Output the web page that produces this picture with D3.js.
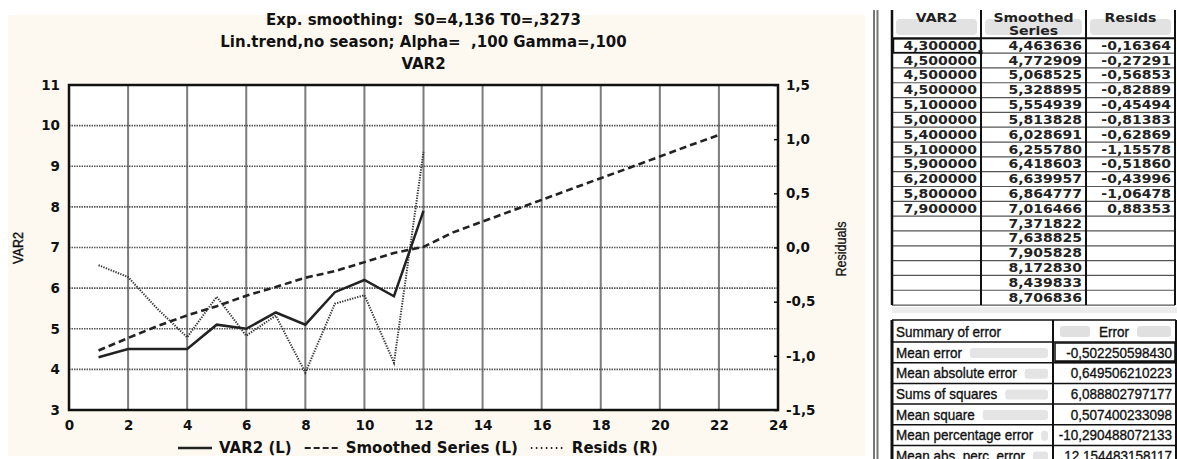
<!DOCTYPE html>
<html>
<head>
<meta charset="utf-8">
<script src="https://cdn.jsdelivr.net/npm/d3@7"></script>
<style>
  body { margin: 0; background: #fff; }
  svg { display: block; }
  text { font-family: "DejaVu Sans", sans-serif; fill: #111; }
</style>
</head>
<body>
<script>
// chart data
const periods = [1, 2, 3, 4, 5, 6, 7, 8, 9, 10, 11, 12, 13, 14, 15, 16, 17, 18, 19, 20, 21, 22];
const var2 = [4.3, 4.5, 4.5, 4.5, 5.1, 5.0, 5.4, 5.1, 5.9, 6.2, 5.8, 7.9];
const smoothed = [4.463636, 4.772909, 5.068525, 5.328895, 5.554939, 5.813828, 6.028691, 6.255780,
  6.418603, 6.639957, 6.864777, 7.016466, 7.371822, 7.638825, 7.905828, 8.172830, 8.439833, 8.706836,
  8.97, 9.24, 9.51, 9.77];
const resids = [-0.16364, -0.27291, -0.56853, -0.82889, -0.45494, -0.81383, -0.62869, -1.15578,
  -0.51860, -0.43996, -1.06478, 0.88353];

const xTicks = [0, 2, 4, 6, 8, 10, 12, 14, 16, 18, 20, 22, 24];
const leftTicks = [3, 4, 5, 6, 7, 8, 9, 10, 11];
const rightTicks = [-1.5, -1.0, -0.5, 0.0, 0.5, 1.0, 1.5];

const titleLines = ["Exp. smoothing:  S0=4,136 T0=,3273", "Lin.trend,no season; Alpha=  ,100 Gamma=,100", "VAR2"];
const legendLabels = ["VAR2 (L)", "Smoothed Series (L)", "Resids (R)"];

// table data
const tableHeads = [["VAR2"], ["Smoothed", "Series"], ["Resids"]];
const tableRows = 18;
const errorLabels = ["Mean error", "Mean absolute error", "Sums of squares", "Mean square",
  "Mean percentage error", "Mean abs. perc. error"];
const errorValues = [-0.502250598430, 0.649506210223, 6.088802797177, 0.507400233098,
  -10.290488072133, 12.154483158117];

const W = 1177, H = 459;
const svg = d3.select("body").append("svg").attr("width", W).attr("height", H);

// comma decimals, plain hyphen minus
const loc = d3.formatLocale({decimal: ",", thousands: ".", grouping: [3], currency: ["", ""], minus: "-"});

// ---------- chart ----------
svg.append("rect").attr("x", 8).attr("y", 15).attr("width", 857).attr("height", 441).attr("fill", "#fdf9f1");

const x = d3.scaleLinear().domain([0, 24]).range([69, 778]);
const yL = d3.scaleLinear().domain([3, 11]).range([410, 85]);
const yR = d3.scaleLinear().domain([-1.5, 1.5]).range([410, 85]);

svg.append("rect")
  .attr("x", x(0)).attr("y", yL(11))
  .attr("width", x(24) - x(0)).attr("height", yL(3) - yL(11))
  .attr("fill", "#fff");

// grid
svg.append("g").selectAll("line")
  .data(xTicks.slice(1, -1))
  .join("line")
  .attr("x1", d => x(d)).attr("x2", d => x(d))
  .attr("y1", yL(11)).attr("y2", yL(3))
  .attr("stroke", "#7c7c7c").attr("stroke-width", 2);

svg.append("g").selectAll("line")
  .data(leftTicks.slice(1, -1))
  .join("line")
  .attr("x1", x(0)).attr("x2", x(24))
  .attr("y1", d => yL(d)).attr("y2", d => yL(d))
  .attr("stroke", "#555").attr("stroke-width", 1.6).attr("stroke-dasharray", "1.5,1");

// axes
const axisLeft = svg.append("g")
  .attr("transform", "translate(" + x(0) + ",0)")
  .call(d3.axisLeft(yL).tickValues(leftTicks).tickSize(0).tickPadding(9).tickFormat(d3.format("d")));

const axisBottom = svg.append("g")
  .attr("transform", "translate(0," + yL(3) + ")")
  .call(d3.axisBottom(x).tickValues(xTicks).tickSize(0).tickPadding(10).tickFormat(d3.format("d")));

const axisRight = svg.append("g")
  .attr("transform", "translate(" + x(24) + ",0)")
  .call(d3.axisRight(yR).tickValues(rightTicks).tickSize(-4).tickPadding(8).tickFormat(loc.format(".1f")));

[axisLeft, axisBottom, axisRight].forEach(function(g) {
  g.select(".domain").remove();
  g.selectAll("text")
    .attr("fill", "#111")
    .style("font-family", "DejaVu Sans")
    .style("font-weight", "bold")
    .style("font-size", "13.5px");
  g.selectAll("line").attr("stroke", "#111").attr("stroke-width", 1.5);
});

// frame
svg.append("rect")
  .attr("x", x(0)).attr("y", yL(11))
  .attr("width", x(24) - x(0)).attr("height", yL(3) - yL(11))
  .attr("fill", "none").attr("stroke", "#111").attr("stroke-width", 2.5);

// series
const lineL = d3.line().x((d, i) => x(periods[i])).y(d => yL(d));
const lineR = d3.line().x((d, i) => x(periods[i])).y(d => yR(d));

svg.append("path").datum(resids).attr("d", lineR)
  .attr("fill", "none").attr("stroke", "#333").attr("stroke-width", 2).attr("stroke-dasharray", "1.3,1.3");

svg.append("path").datum(smoothed).attr("d", lineL)
  .attr("fill", "none").attr("stroke", "#222").attr("stroke-width", 2.6).attr("stroke-dasharray", "7,4");

svg.append("path").datum(var2).attr("d", lineL)
  .attr("fill", "none").attr("stroke", "#222").attr("stroke-width", 2.5);

// titles
svg.append("g").selectAll("text")
  .data(titleLines)
  .join("text")
  .attr("x", (x(0) + x(24)) / 2)
  .attr("y", (d, i) => 25 + i * 22)
  .attr("text-anchor", "middle")
  .style("white-space", "pre")
  .style("font-weight", "bold")
  .style("font-size", "15px")
  .text(d => d);

// axis titles
svg.append("text")
  .attr("transform", "translate(23,248) rotate(-90) scale(0.9,1)")
  .attr("text-anchor", "middle")
  .style("font-family", "Liberation Sans")
  .style("font-size", "14px")
  .attr("stroke", "#111").attr("stroke-width", 0.4)
  .text("VAR2");

svg.append("text")
  .attr("transform", "translate(846,249) rotate(-90) scale(0.9,1)")
  .attr("text-anchor", "middle")
  .style("font-family", "Liberation Sans")
  .style("font-size", "14px")
  .attr("stroke", "#111").attr("stroke-width", 0.3)
  .text("Residuals");

// legend
const legendDash = [null, "6,3", "1.5,3.5"];
const legend = svg.append("g");
let lx = 178;
legendLabels.forEach(function(label, i) {
  const ln = legend.append("line")
    .attr("x1", lx).attr("x2", lx + 34)
    .attr("y1", 448).attr("y2", 448)
    .attr("stroke", "#222").attr("stroke-width", i == 0 ? 2.5 : 2);
  if (legendDash[i]) ln.attr("stroke-dasharray", legendDash[i]);
  const t = legend.append("text")
    .attr("x", lx + 41).attr("y", 453)
    .style("font-weight", "bold")
    .style("font-size", "15px")
    .text(label);
  lx = lx + 41 + t.node().getComputedTextLength() + 13;
});

// ---------- tables ----------
svg.append("line").attr("x1", 874).attr("x2", 874).attr("y1", 10).attr("y2", H).attr("stroke", "#777").attr("stroke-width", 2);
svg.append("line").attr("x1", 877.5).attr("x2", 877.5).attr("y1", 10).attr("y2", H).attr("stroke", "#777").attr("stroke-width", 2);

const cols = [892, 981, 1086, 1175];
const rowTop = 38.3, rowH = 14.82;
const tEnd = rowTop + tableRows * rowH;
const f6 = loc.format(".6f"), f5 = loc.format(".5f");

const table = svg.append("g");

// header buttons
tableHeads.forEach(function(lines, c) {
  table.append("rect")
    .attr("x", cols[c] + 4).attr("y", 19)
    .attr("width", cols[c + 1] - cols[c] - 8).attr("height", 16)
    .attr("rx", 4).attr("fill", "#e2e2e2");
  lines.forEach(function(s, k) {
    table.append("text")
      .attr("transform", "translate(" + ((cols[c] + cols[c + 1]) / 2) + "," + (22 + k * 12.5) + ") scale(1.22,1)")
      .attr("text-anchor", "middle")
      .style("font-weight", "bold")
      .style("font-size", "11.5px")
      .style("fill", "#222")
      .text(s);
  });
});

// row lines
table.selectAll(".rowline")
  .data(d3.range(tableRows + 1))
  .join("line")
  .attr("class", "rowline")
  .attr("x1", cols[0]).attr("x2", cols[3])
  .attr("y1", d => rowTop + d * rowH).attr("y2", d => rowTop + d * rowH)
  .attr("stroke", d => d == 0 ? "#111" : "#555")
  .attr("stroke-width", d => d == 0 ? 2 : 1.2);

// columns
cols.forEach(function(cx, i) {
  table.append("line")
    .attr("x1", cx).attr("x2", cx).attr("y1", 10).attr("y2", tEnd)
    .attr("stroke", "#111").attr("stroke-width", i == 0 ? 2.5 : 2);
});

// cell text
const cellCols = [
  {vals: var2, fmt: f6, right: 977},
  {vals: smoothed.slice(0, tableRows), fmt: f6, right: 1082},
  {vals: resids, fmt: f5, right: 1171}
];
cellCols.forEach(function(col) {
  table.append("g").selectAll("text")
    .data(col.vals)
    .join("text")
    .attr("transform", (d, i) => "translate(" + col.right + "," + (rowTop + i * rowH + 11.5) + ") scale(1.22,1)")
    .attr("text-anchor", "end")
    .style("font-weight", "bold")
    .style("font-size", "11.5px")
    .style("fill", "#222")
    .text(d => col.fmt(d));
});

// selected cell
table.append("rect")
  .attr("x", 893.5).attr("y", rowTop + 0.5).attr("width", 87).attr("height", rowH - 1)
  .attr("fill", "none").attr("stroke", "#111").attr("stroke-width", 1.5);
table.append("rect").attr("x", 978.5).attr("y", rowTop + rowH - 3).attr("width", 4).attr("height", 4).attr("fill", "#111");

// shadow under table
svg.append("rect").attr("x", 892).attr("y", tEnd + 2).attr("width", W - 892).attr("height", 6).attr("fill", "#ececec");

// summary of error table
const t2 = svg.append("g");
const t2Top = 320, t2Head = 342, t2RowH = 20.7, t2Mid = 1053, t2Right = 1176;

t2.append("rect").attr("x", 1060).attr("y", 326).attr("width", 30).attr("height", 11).attr("rx", 3).attr("fill", "#e0e0e0");
t2.append("rect").attr("x", 1137).attr("y", 326).attr("width", 34).attr("height", 11).attr("rx", 3).attr("fill", "#e0e0e0");

function narrow(sel) {
  return sel.style("font-family", "Liberation Sans")
    .style("font-size", "15px")
    .attr("stroke", "#111").attr("stroke-width", 0.35);
}

narrow(t2.append("text")
  .attr("transform", "translate(896,337) scale(0.9,1)"))
  .text("Summary of error");
narrow(t2.append("text")
  .attr("transform", "translate(1114,337) scale(0.9,1)")
  .attr("text-anchor", "middle"))
  .text("Error");

errorLabels.forEach(function(label, i) {
  const top = t2Head + i * t2RowH;
  const t = narrow(t2.append("text")
    .attr("transform", "translate(896," + (top + 15.5) + ") scale(0.9,1)"))
    .text(label);
  const end = 896 + t.node().getComputedTextLength() * 0.9 + 8;
  if (end < t2Mid - 8) {
    t2.insert("rect", "text")
      .attr("x", end).attr("y", top + 6).attr("width", t2Mid - 5 - end).attr("height", 10)
      .attr("rx", 3).attr("fill", "#e4e4e4");
  }
  narrow(t2.append("text")
    .attr("transform", "translate(1172," + (top + 15.5) + ") scale(0.9,1)")
    .attr("text-anchor", "end"))
    .text(loc.format(".12f")(errorValues[i]));
});

// table 2 lines
t2.selectAll(".hl")
  .data(d3.range(errorLabels.length + 1))
  .join("line")
  .attr("class", "hl")
  .attr("x1", 892).attr("x2", t2Right)
  .attr("y1", d => d == 0 ? t2Top : t2Head + (d - 1) * t2RowH)
  .attr("y2", d => d == 0 ? t2Top : t2Head + (d - 1) * t2RowH)
  .attr("stroke", "#111").attr("stroke-width", 1.5);
t2.append("line").attr("x1", 892).attr("x2", 892).attr("y1", t2Top).attr("y2", H).attr("stroke", "#111").attr("stroke-width", 3);
t2.append("line").attr("x1", t2Mid).attr("x2", t2Mid).attr("y1", t2Top).attr("y2", H).attr("stroke", "#111").attr("stroke-width", 2);
t2.append("line").attr("x1", t2Right).attr("x2", t2Right).attr("y1", t2Top).attr("y2", H).attr("stroke", "#111").attr("stroke-width", 2);

// selected error cell
t2.append("rect")
  .attr("x", t2Mid + 2).attr("y", t2Head + 1).attr("width", t2Right - t2Mid - 3).attr("height", t2RowH - 2)
  .attr("fill", "none").attr("stroke", "#111").attr("stroke-width", 1.5);
t2.append("line").attr("x1", t2Mid + 2).attr("x2", t2Right).attr("y1", t2Head + t2RowH - 1).attr("y2", t2Head + t2RowH - 1)
  .attr("stroke", "#111").attr("stroke-width", 3);
</script>
</body>
</html>
